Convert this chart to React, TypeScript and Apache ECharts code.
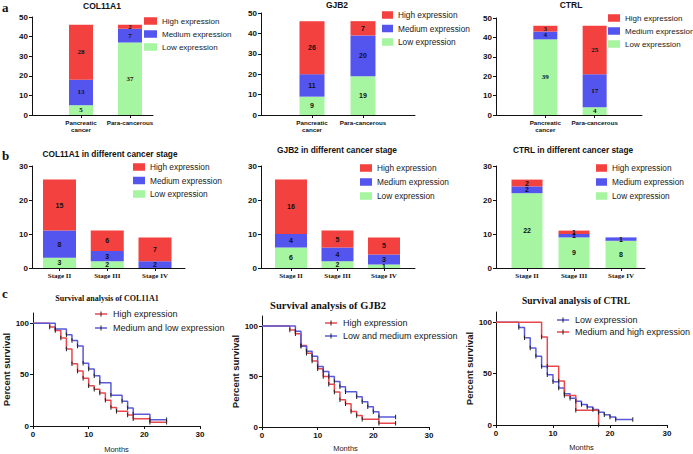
import React, { useEffect, useRef } from 'react';
import * as echarts from 'echarts';

const SANS = '"Liberation Sans", Arial, Helvetica, sans-serif';
const SERIF = '"Liberation Serif", "Times New Roman", serif';

const RED = '#F2413F';
const BLUE = '#5454EE';
const GREEN = '#A6F5A0';
const LINE_RED = '#E8474C';
const LINE_BLUE = '#5A5AD8';

const expressionLevels = ['High expression', 'Medium expression', 'Low expression'];

// ---- Panel a: tissue ----
const tissueCategories = ['Pancreatic\ncancer', 'Para-cancerous'];
const col11a1TissueLow = [5, 37];
const col11a1TissueMedium = [13, 7];
const col11a1TissueHigh = [28, 2];
const gjb2TissueLow = [9, 19];
const gjb2TissueMedium = [11, 20];
const gjb2TissueHigh = [26, 7];
const ctrlTissueLow = [39, 4];
const ctrlTissueMedium = [4, 17];
const ctrlTissueHigh = [3, 25];

// ---- Panel b: stage ----
const stageCategories = ['Stage II', 'Stage III', 'Stage IV'];
const col11a1StageLow = [3, 2, 0];
const col11a1StageMedium = [8, 3, 2];
const col11a1StageHigh = [15, 6, 7];
const gjb2StageLow = [6, 2, 1];
const gjb2StageMedium = [4, 4, 3];
const gjb2StageHigh = [16, 5, 5];
const ctrlStageLow = [22, 9, 8];
const ctrlStageMedium = [2, 1, 1];
const ctrlStageHigh = [2, 1, 0];

// ---- Panel c: survival ----
const col11a1HighMonths = [0, 3, 4, 5, 6, 7, 8, 9, 10, 11, 12, 13, 14, 15, 17, 18, 21, 24];
const col11a1HighSurvival = [100, 96.4, 92.9, 85.7, 75, 60.7, 53.6, 46.4, 39.3, 35.7, 32.1, 25, 17.9, 14.3, 10.7, 7.1, 3.6, 3.6];
const col11a1MedLowMonths = [0, 4, 6, 7, 8, 9, 10, 11, 12, 14, 16, 17, 18, 21, 24];
const col11a1MedLowSurvival = [100, 94.4, 88.9, 83.3, 77.8, 61.1, 55.6, 49, 42, 30, 24, 17.5, 11.5, 6, 6];

const gjb2HighMonths = [0, 5, 6, 7, 8, 9, 10, 11, 12, 13, 14, 15, 16, 17, 18, 21, 24];
const gjb2HighSurvival = [100, 96.2, 92.3, 80.8, 73.1, 65.4, 57.7, 50, 42.3, 34.6, 26.9, 23.1, 15.4, 11.5, 7.7, 3.8, 3.8];
const gjb2LowMedMonths = [0, 6, 7, 8, 9, 10, 11, 12, 13, 14, 15, 17, 18, 19, 20, 21, 24];
const gjb2LowMedSurvival = [100, 95, 80, 75, 70, 60, 55, 50, 45, 40, 35, 30, 25, 20, 15, 10, 10];

const ctrlLowMonths = [0, 4, 5, 6, 7, 8, 9, 10, 11, 12, 13, 14, 15, 16, 17, 18, 19, 20, 21, 24];
const ctrlLowSurvival = [100, 95, 85, 75, 67, 57, 49, 42, 36, 30.5, 26, 23, 20, 17.5, 15, 12.5, 10, 7.8, 5.3, 5.3];
const ctrlMedHighMonths = [0, 8, 9, 11, 12, 14, 18];
const ctrlMedHighSurvival = [100, 85.7, 57.1, 42.9, 28.6, 14.3, 0];

const survivalTicks = [0, 50, 100];

type BarPanel = {
  title: string;
  categories: string[];
  low: number[];
  medium: number[];
  high: number[];
  layout: any;
};

const barPanels: BarPanel[] = [
  {
    title: 'COL11A1', categories: tissueCategories,
    low: col11a1TissueLow, medium: col11a1TissueMedium, high: col11a1TissueHigh,
    layout: { left: 32, top: 17, width: 121, height: 98, xMin: 0, xMax: 2.47, yMax: 50, barWidth: 24,
      valueFont: SERIF, catFont: SANS, catSize: 6.2, catLH: 7, legLeft: 144, legTop: 16, legW: 13, legGap: 3, legSize: 8,
      tx: 102, ty: 6, tSize: 8.5 },
  },
  {
    title: 'GJB2', categories: tissueCategories,
    low: gjb2TissueLow, medium: gjb2TissueMedium, high: gjb2TissueHigh,
    layout: { left: 261, top: 13, width: 154, height: 102, xMin: 0, xMax: 3.02, yMax: 50, barWidth: 25,
      valueFont: SANS, catFont: SANS, catSize: 6.2, catLH: 7, legLeft: 382, legTop: 10, legW: 11, legGap: 3.5, legSize: 8.3,
      tx: 337, ty: 5, tSize: 8.5 },
  },
  {
    title: 'CTRL', categories: tissueCategories,
    low: ctrlTissueLow, medium: ctrlTissueMedium, high: ctrlTissueHigh,
    layout: { left: 496, top: 18, width: 146, height: 97, xMin: 0, xMax: 2.96, yMax: 50, barWidth: 24,
      valueFont: SERIF, catFont: SANS, catSize: 6.2, catLH: 7, legLeft: 608, legTop: 13, legW: 12, legGap: 3, legSize: 8,
      tx: 571, ty: 5, tSize: 8.5 },
  },
  {
    title: 'COL11A1 in different cancer stage', categories: stageCategories,
    low: col11a1StageLow, medium: col11a1StageMedium, high: col11a1StageHigh,
    layout: { left: 32, top: 166, width: 153, height: 102, xMin: 0.424, xMax: 3.628, yMax: 30, barWidth: 33,
      valueFont: SANS, catFont: SERIF, catSize: 7, catLH: 8, legLeft: 133, legTop: 162, legW: 12, legGap: 3.5, legSize: 8.3,
      tx: 110, ty: 154, tSize: 8.3 },
  },
  {
    title: 'GJB2 in different cancer stage', categories: stageCategories,
    low: gjb2StageLow, medium: gjb2StageMedium, high: gjb2StageHigh,
    layout: { left: 261, top: 166, width: 154, height: 102, xMin: 0.355, xMax: 3.667, yMax: 30, barWidth: 32,
      valueFont: SANS, catFont: SERIF, catSize: 7, catLH: 8, legLeft: 360, legTop: 163, legW: 12, legGap: 4, legSize: 8.3,
      tx: 337, ty: 150, tSize: 8.3 },
  },
  {
    title: 'CTRL in different cancer stage', categories: stageCategories,
    low: ctrlStageLow, medium: ctrlStageMedium, high: ctrlStageHigh,
    layout: { left: 496, top: 166, width: 149, height: 102, xMin: 0.34, xMax: 3.51, yMax: 30, barWidth: 31,
      valueFont: SANS, catFont: SERIF, catSize: 7, catLH: 8, legLeft: 596, legTop: 163, legW: 11, legGap: 4, legSize: 8.3,
      tx: 573, ty: 150, tSize: 8.3 },
  },
];

type Curve = { name: string; months: number[]; survival: number[]; color: string };
type SurvPanel = { title: string; curves: Curve[]; layout: any };

const survPanels: SurvPanel[] = [
  {
    title: 'Survival analysis of COL11A1',
    curves: [
      { name: 'High expression', months: col11a1HighMonths, survival: col11a1HighSurvival, color: LINE_RED },
      { name: 'Medium and low expression', months: col11a1MedLowMonths, survival: col11a1MedLowSurvival, color: LINE_BLUE },
    ],
    layout: { left: 32, top: 313, width: 168, height: 113, gapY: 22, gapX: 19, tx: 107, ty: 298, tSize: 8,
      legX: 95, legY: [314, 328] },
  },
  {
    title: 'Survival analysis of GJB2',
    curves: [
      { name: 'High expression', months: gjb2HighMonths, survival: gjb2HighSurvival, color: LINE_RED },
      { name: 'Low and medium expression', months: gjb2LowMedMonths, survival: gjb2LowMedSurvival, color: LINE_BLUE },
    ],
    layout: { left: 262, top: 316, width: 167, height: 111, gapY: 20, gapX: 17, tx: 328, ty: 305, tSize: 10.5,
      legX: 325, legY: [323, 336] },
  },
  {
    title: 'Survival analysis of CTRL',
    curves: [
      { name: 'Low expression', months: ctrlLowMonths, survival: ctrlLowSurvival, color: LINE_BLUE },
      { name: 'Medium and high expression', months: ctrlMedHighMonths, survival: ctrlMedHighSurvival, color: LINE_RED },
    ],
    layout: { left: 496, top: 312, width: 171, height: 113, gapY: 22, gapX: 18, tx: 576, ty: 301, tSize: 9.5,
      legX: 557, legY: [320, 332] },
  },
];

function buildOption() {
  const grid: any[] = [];
  const xAxis: any[] = [];
  const yAxis: any[] = [];
  const series: any[] = [];
  const legend: any[] = [];
  const graphic: any[] = [];

  const axisLine = { show: true, onZero: false, lineStyle: { color: '#111', width: 1 } };

  barPanels.forEach((p, i) => {
    const L = p.layout;
    grid.push({ left: L.left, top: L.top, width: L.width, height: L.height, containLabel: false });
    const positions = p.categories.map((_, k) => k + 1);
    xAxis.push({
      type: 'value', gridIndex: i, min: L.xMin, max: L.xMax,
      axisLine,
      axisTick: { show: true, length: 3, customValues: positions, lineStyle: { color: '#111' } },
      axisLabel: {
        customValues: positions,
        formatter: (v: number) => (Number.isInteger(v) && p.categories[v - 1]) || '',
        fontFamily: L.catFont, fontSize: L.catSize, fontWeight: 'bold', lineHeight: L.catLH,
        color: '#111', margin: 4, align: 'center',
      },
      splitLine: { show: false },
    });
    yAxis.push({
      type: 'value', gridIndex: i, min: 0, max: L.yMax, interval: 10,
      axisLine,
      axisTick: { show: true, length: 3, lineStyle: { color: '#111' } },
      axisLabel: { fontFamily: SANS, fontSize: 8, fontWeight: 'bold', color: '#111', margin: 4 },
      splitLine: { show: false },
    });
    const levels: [number[], string, string][] = [
      [p.low, 'Low expression', GREEN],
      [p.medium, 'Medium expression', BLUE],
      [p.high, 'High expression', RED],
    ];
    levels.forEach(([vals, name, color]) => {
      series.push({
        type: 'bar', name, xAxisIndex: i, yAxisIndex: i, stack: 'stack' + i,
        barWidth: L.barWidth,
        // value first so that the stack runs along the y (value) dimension
        data: vals.map((v, k) => [v, k + 1]),
        encode: { x: 1, y: 0 },
        itemStyle: { color },
        label: {
          show: true, position: 'inside',
          formatter: (prm: any) => (prm.value[0] > 0 ? String(prm.value[0]) : ''),
          fontFamily: L.valueFont, fontSize: 7, fontWeight: 'bold', color: '#111',
        },
        emphasis: { disabled: true },
        silent: true,
      });
    });
    legend.push({
      orient: 'vertical', left: L.legLeft, top: L.legTop, padding: 0,
      itemWidth: L.legW, itemHeight: 7.5, itemGap: L.legGap, icon: 'rect',
      selectedMode: false, data: expressionLevels,
      textStyle: { fontFamily: SANS, fontSize: L.legSize, color: '#1a1a1a', lineHeight: 10 },
    });
    graphic.push({
      type: 'text', x: L.tx, y: L.ty,
      style: { text: p.title, font: `bold ${L.tSize}px ${SANS}`, fill: '#111', textAlign: 'center', textVerticalAlign: 'middle' },
    });
  });

  survPanels.forEach((p, j) => {
    const i = barPanels.length + j;
    const L = p.layout;
    grid.push({ left: L.left, top: L.top, width: L.width, height: L.height, containLabel: false });
    xAxis.push({
      type: 'value', gridIndex: i, min: 0, max: 30, interval: 10,
      axisLine,
      axisTick: { show: true, length: 3, lineStyle: { color: '#111' } },
      axisLabel: { fontFamily: SANS, fontSize: 8, fontWeight: 'bold', color: '#111', margin: 4 },
      splitLine: { show: false },
      name: 'Months', nameLocation: 'middle', nameGap: L.gapX,
      nameTextStyle: { fontFamily: SANS, fontSize: 7.5, color: '#1a1a1a' },
    });
    yAxis.push({
      type: 'value', gridIndex: i, min: 0, max: 110,
      axisLine,
      axisTick: { show: true, length: 3, customValues: survivalTicks, lineStyle: { color: '#111' } },
      axisLabel: {
        customValues: survivalTicks,
        formatter: (v: number) => (survivalTicks.includes(v) ? String(v) : ''),
        fontFamily: SANS, fontSize: 8, fontWeight: 'bold', color: '#111', margin: 4,
      },
      splitLine: { show: false },
      name: 'Percent survival', nameLocation: 'middle', nameGap: L.gapY,
      nameTextStyle: { fontFamily: SANS, fontSize: 9.5, fontWeight: 'bold', color: '#1a1a1a' },
    });
    p.curves.forEach((c) => {
      series.push({
        type: 'line', name: c.name, xAxisIndex: i, yAxisIndex: i, step: 'end',
        data: c.months.map((m, k) => [m, c.survival[k]]),
        lineStyle: { color: c.color, width: 1.5 },
        itemStyle: { color: '#222' },
        symbol: 'rect',
        symbolSize: (_v: any, prm: any) => (prm.dataIndex === 0 ? 0 : [1, 4.5]),
        showSymbol: true,
        emphasis: { disabled: true },
        silent: true,
        z: 3,
      });
    });
    graphic.push({
      type: 'text', x: L.tx, y: L.ty,
      style: { text: p.title, font: `bold ${L.tSize}px ${SERIF}`, fill: '#111', textAlign: 'center', textVerticalAlign: 'middle' },
    });
    p.curves.forEach((c, k) => {
      const y = L.legY[k];
      graphic.push({
        type: 'line', shape: { x1: L.legX, y1: y, x2: L.legX + 12, y2: y },
        style: { stroke: c.color, lineWidth: 1.5 },
      });
      graphic.push({
        type: 'line', shape: { x1: L.legX + 6, y1: y - 2.5, x2: L.legX + 6, y2: y + 2.5 },
        style: { stroke: '#222', lineWidth: 1 },
      });
      graphic.push({
        type: 'text', x: L.legX + 18, y,
        style: { text: c.name, font: `9px ${SANS}`, fill: '#1a1a1a', textAlign: 'left', textVerticalAlign: 'middle' },
      });
    });
  });

  const panelLetters: [string, number, number][] = [['a', 2, 7], ['b', 2, 155], ['c', 2, 293]];
  panelLetters.forEach(([t, x, y]) => {
    graphic.push({
      type: 'text', x, y,
      style: { text: t, font: `bold 13px ${SERIF}`, fill: '#111', textAlign: 'left', textVerticalAlign: 'middle' },
    });
  });

  return {
    animation: false,
    backgroundColor: '#fff',
    grid, xAxis, yAxis, series, legend, graphic,
  };
}

export default function App() {
  const ref = useRef<HTMLDivElement>(null);
  useEffect(() => {
    const chart = echarts.init(ref.current!, null, { renderer: 'svg' });
    chart.setOption(buildOption() as any);
    return () => chart.dispose();
  }, []);
  return (
    <div
      ref={ref}
      style={{ position: 'absolute', left: 0, top: 0, width: 693, height: 454, background: '#fff' }}
    />
  );
}
